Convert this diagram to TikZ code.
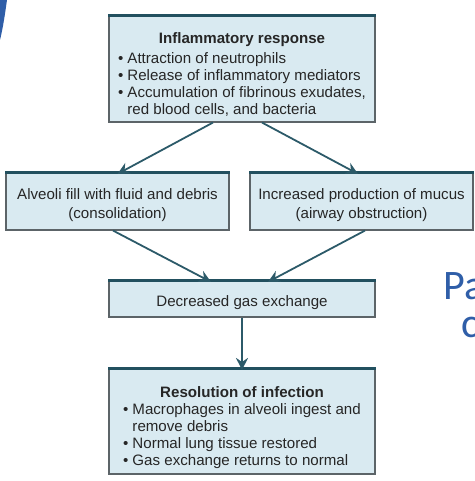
\documentclass[tikz,border=0pt]{standalone}
\usepackage{fontspec}
\setmainfont{Liberation Sans}
\newfontfamily\slidefont{Carlito}
\usetikzlibrary{arrows.meta}
\definecolor{boxfill}{HTML}{D9EAF1}
\definecolor{boxline}{HTML}{5C6468}
\definecolor{topline}{HTML}{22505F}
\definecolor{arrcol}{HTML}{2C5A69}
\definecolor{slideblue}{HTML}{2F5EA8}
\tikzset{
  flowbox/.style={draw=boxline, line width=1.1pt, fill=boxfill, rectangle, inner sep=0pt},
  boxtext/.style={inner sep=0pt, font=\fontsize{15.1}{17}\selectfont, align=center, text=black!85},
  topbar/.style={draw=topline, line width=3.2pt},
  arr/.style={draw=arrcol, line width=1.8pt, -{Stealth[length=12pt,width=12pt,inset=4pt]}},
}
\begin{document}
\begin{tikzpicture}[x=1pt,y=-1pt]
\useasboundingbox (0,0) rectangle (474,481);
\clip (0,0) rectangle (474,481);
% background slide remnants
\fill[slideblue] (0,0) -- (7,0) .. controls (5,14) and (3,28) .. (0,40) -- cycle;
\node[anchor=base west, inner sep=0pt, font=\slidefont\fontsize{42}{42}\selectfont, text=slideblue] (pa) at (443,299) {Pa};
\node[anchor=base west, inner sep=0pt, font=\slidefont\fontsize{42}{42}\selectfont, text=slideblue] (cc) at (461,337) {c};
% boxes
\node[flowbox, minimum width=266pt, minimum height=106pt] (top) at (242,69) {};
\draw[topbar] (top.north west) -- (top.north east);
\node[boxtext] (toptext) at ([yshift=-7pt]top.center)
  {{\bfseries Inflammatory response}\\[4pt]
   \begin{tabular}{@{}l@{\hspace{4pt}}l@{}}
   \textbullet & Attraction of neutrophils\\
   \textbullet & Release of inflammatory mediators\\
   \textbullet & Accumulation of fibrinous exudates,\\
   & red blood cells, and bacteria
   \end{tabular}};
\node[flowbox, minimum width=223pt, minimum height=57pt] (left) at (117.5,201.5) {};
\draw[topbar] (left.north west) -- (left.north east);
\node[boxtext, font=\fontsize{15.1}{19}\selectfont] (lefttext) at ([yshift=-3.5pt]left.center)
  {Alveoli fill with fluid and debris\\(consolidation)};
\node[flowbox, minimum width=223pt, minimum height=57pt] (right) at (361.5,201.5) {};
\draw[topbar] (right.north west) -- (right.north east);
\node[boxtext, font=\fontsize{15.1}{19}\selectfont] (righttext) at ([yshift=-3.5pt]right.center)
  {Increased production of mucus\\(airway obstruction)};
\node[flowbox, minimum width=266pt, minimum height=36pt] (dec) at (242,299) {};
\draw[topbar] (dec.north west) -- (dec.north east);
\node[boxtext] (dectext) at ([yshift=-3.5pt]dec.center) {Decreased gas exchange};
\node[flowbox, minimum width=266pt, minimum height=105pt] (res) at (242,421.5) {};
\draw[topbar] (res.north west) -- (res.north east);
\node[boxtext] (restext) at ([yshift=-7pt]res.center)
  {{\bfseries Resolution of infection}\\[4pt]
   \begin{tabular}{@{}l@{\hspace{4pt}}l@{}}
   \textbullet & Macrophages in alveoli ingest and\\
   & remove debris\\
   \textbullet & Normal lung tissue restored\\
   \textbullet & Gas exchange returns to normal
   \end{tabular}};
% connectors
\draw[arr] ([xshift=-29pt]top.south) -- ([yshift=-1.5pt]left.north);
\draw[arr] ([xshift=20pt]top.south) -- ([xshift=-3.5pt,yshift=-1.5pt]right.north);
\draw[arr] ([xshift=-4.5pt]left.south) -- ([xshift=-31pt,yshift=-1.5pt]dec.north);
\draw[arr] ([xshift=3.5pt]right.south) -- ([xshift=26pt,yshift=-1.5pt]dec.north);
\draw[arr] (dec.south) -- ([yshift=-1.5pt]res.north);
\end{tikzpicture}
\end{document}
